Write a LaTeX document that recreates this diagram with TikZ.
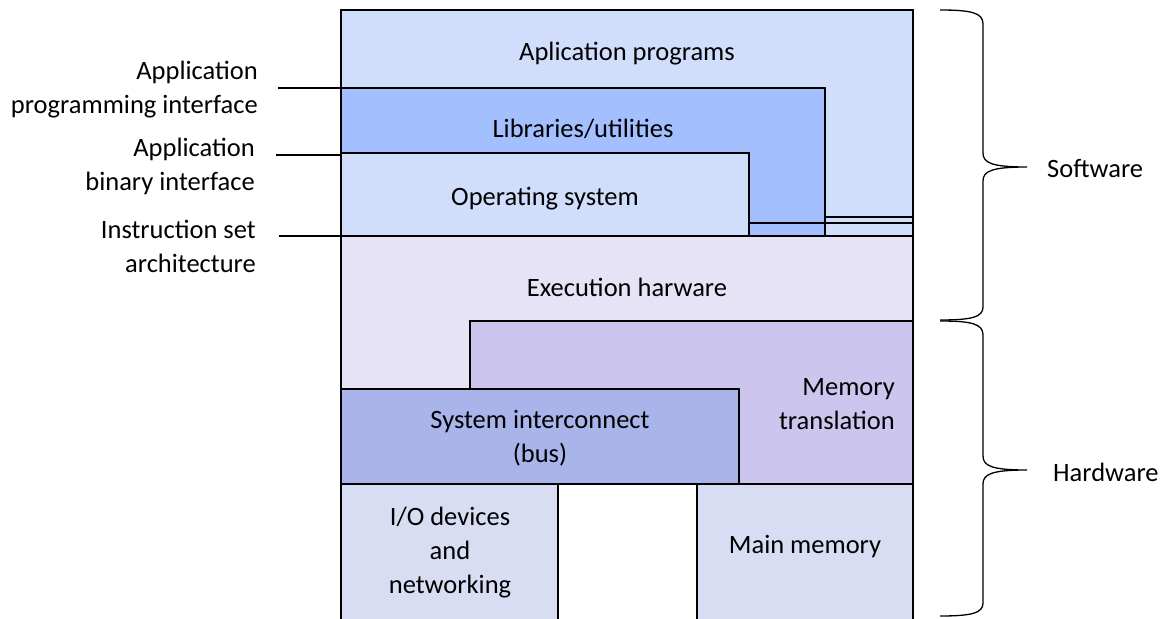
\documentclass[tikz,border=0pt]{standalone}
\usepackage{fontspec}
\setmainfont{Carlito}
\definecolor{appc}{HTML}{D0DEFB}
\definecolor{libc}{HTML}{A4BFFD}
\definecolor{exec}{HTML}{E6E3F6}
\definecolor{memt}{HTML}{CCC6EE}
\definecolor{busc}{HTML}{A9B5EA}
\definecolor{devc}{HTML}{D9DDF4}
\begin{document}
\begin{tikzpicture}[x=1pt,y=-1pt,
  layer/.style={draw=black,line width=2pt,line join=miter},
  thin/.style={draw=black,line width=1.4pt},
  txt/.style={font=\fontsize{26.5}{34}\selectfont,inner sep=0pt,align=center},
  lbl/.style={font=\fontsize{26.5}{34}\selectfont,inner sep=0pt,align=right,anchor=east},
  brace/.style={draw=black,line width=1.3pt}]
\useasboundingbox (0,0) rectangle (1169,618);
% software layers
\path[layer,fill=appc] (341,10) rectangle (913,236);
\path[layer,fill=libc] (341,88) rectangle (825,236);
\path[layer,fill=appc] (341,153) rectangle (749,236);
\draw[thin] (749,223) -- (825,223);
\draw[thin] (825,217) -- (913,217);
\draw[thin] (825,223) -- (913,223);
% hardware layers
\path[layer,fill=exec] (341,236) rectangle (913,484);
\path[layer,fill=memt] (470,321) rectangle (913,484);
\path[layer,fill=busc] (341,389) rectangle (739,484);
\path[fill=devc] (341,484) rectangle (558,620);
\draw[layer] (341,620) -- (341,484) -- (558,484) -- (558,620);
\path[fill=devc] (697,484) rectangle (913,620);
\draw[layer] (697,620) -- (697,484) -- (913,484) -- (913,620);
\draw[layer] (341,10) -- (341,620);
% texts in boxes
\node[txt] (app) at (627,54) {Aplication programs};
\node[txt] (lib) at (583,129) {Libraries/utilities};
\node[txt] (os) at (545,199) {Operating system};
\node[txt] (exe) at (627,287) {Execution harware};
\node[txt,align=right,anchor=east] (mt) at (895,404) {Memory\\translation};
\node[txt] (bus) at (540,438) {System interconnect\\(bus)};
\node[txt] (io) at (450,553) {I/O devices\\and\\networking};
\node[txt] (mm) at (805,547) {Main memory};
% interface labels
\node[lbl] (api) at (258,90) {Application\\programming interface};
\node[lbl] (abi) at (255,166) {Application\\binary interface};
\node[lbl] (isa) at (256,246) {Instruction set\\architecture};
\coordinate (apiL) at (278,88);
\coordinate (apiR) at (341,88);
\coordinate (abiL) at (276,155);
\coordinate (abiR) at (341,155);
\coordinate (isaL) at (279,236);
\coordinate (isaR) at (341,236);
\draw[thin] (apiL) -- (apiR);
\draw[thin] (abiL) -- (abiR);
\draw[thin] (isaL) -- (isaR);
% braces
\coordinate (swtip) at (1027,167);
\coordinate (hwtip) at (1027,470);
\draw[brace] (940,10) .. controls (972,10) and (983,13) .. (983,24) -- (983,153)
  .. controls (983,163) and (992,167) .. (swtip)
  .. controls (992,167) and (983,171) .. (983,181) -- (983,307)
  .. controls (983,317) and (972,320) .. (940,320);
\draw[brace] (940,321) .. controls (972,321) and (983,324) .. (983,335) -- (983,456)
  .. controls (983,466) and (992,470) .. (hwtip)
  .. controls (992,470) and (983,474) .. (983,484) -- (983,603)
  .. controls (983,613) and (972,616) .. (940,616);
\node[txt,anchor=west] (sw) at (1047,169) {Software};
\node[txt,anchor=west] (hw) at (1053,472) {Hardware};
\end{tikzpicture}
\end{document}
